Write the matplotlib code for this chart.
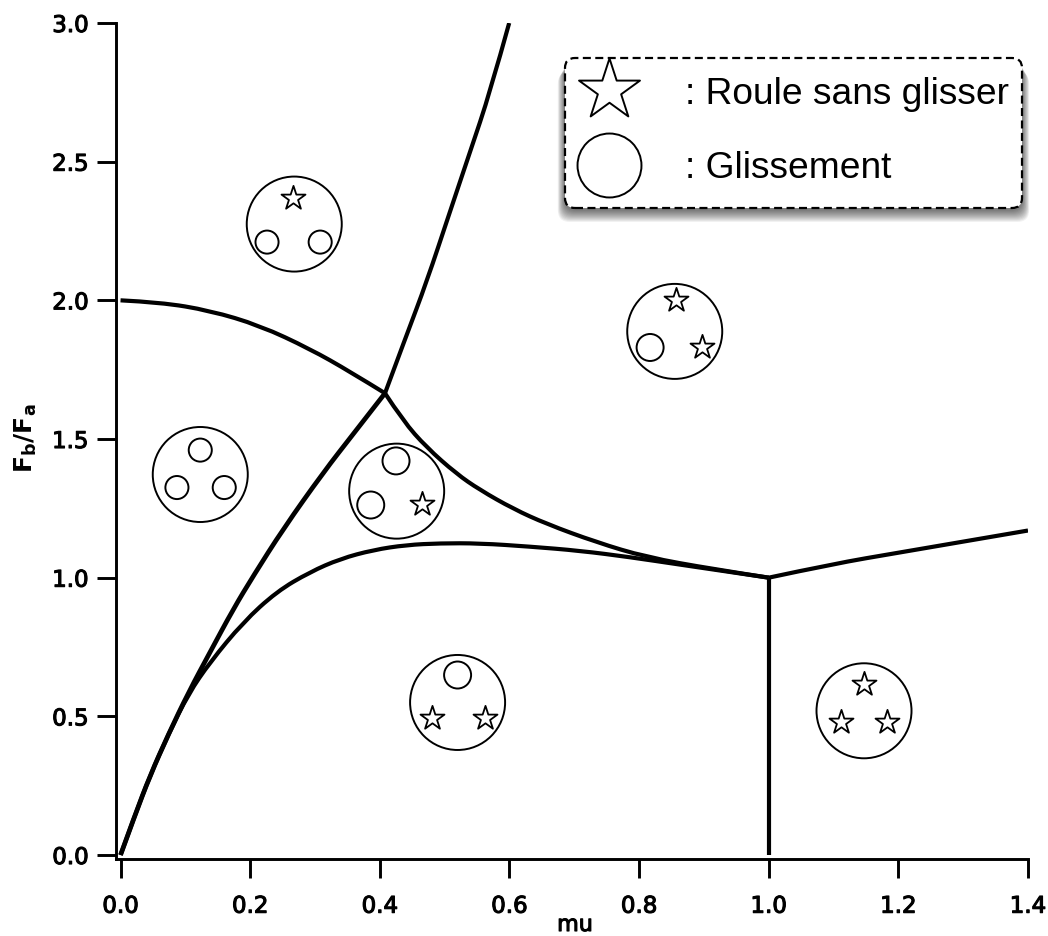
import matplotlib
matplotlib.use('Agg')
import matplotlib.pyplot as plt
import matplotlib.patheffects as pe
from matplotlib.patches import FancyBboxPatch, PathPatch
from matplotlib.path import Path
from matplotlib.transforms import IdentityTransform

# courbes
left_x = [0.0, 0.022, 0.0455, 0.074, 0.105, 0.138, 0.174, 0.205, 0.251, 0.313, 0.359, 0.408]
left_y = [0.0, 0.142, 0.286, 0.436, 0.587, 0.731, 0.887, 1.007, 1.176, 1.38, 1.518, 1.665]

up_x = [0.408, 0.441, 0.472, 0.508, 0.539, 0.57, 0.5996]
up_y = [1.665, 1.873, 2.065, 2.318, 2.534, 2.75, 3.0]

top_x = [0.0, 0.061, 0.138, 0.215, 0.292, 0.354, 0.408]
top_y = [2.0, 1.993, 1.963, 1.909, 1.825, 1.743, 1.665]

mid_x = [0.408, 0.436, 0.472, 0.518, 0.554, 0.606, 0.657, 0.734, 0.811, 0.914, 1.0]
mid_y = [1.665, 1.565, 1.47, 1.375, 1.317, 1.248, 1.194, 1.128, 1.074, 1.031, 1.0]

bot_x = [0.0, 0.022, 0.0455, 0.074, 0.105, 0.138, 0.189, 0.241, 0.292, 0.339, 0.39, 0.441, 0.493, 0.554, 0.632, 0.709, 0.786, 0.863, 1.0]
bot_y = [0.0, 0.142, 0.286, 0.436, 0.582, 0.695, 0.839, 0.95, 1.02, 1.068, 1.10, 1.118, 1.124, 1.124, 1.112, 1.097, 1.074, 1.047, 1.0]

right_x = [1.0, 1.1, 1.2, 1.3, 1.4]
right_y = [1.0, 1.05, 1.09, 1.13, 1.17]

vert_x = [1.0, 1.0]
vert_y = [0.0, 1.0]

# grands cercles (configurations)
big_x = [0.268, 0.855, 0.123, 0.426, 0.520, 1.147]
big_y = [2.275, 1.888, 1.372, 1.312, 0.55, 0.52]

small_circ_x = [0.226, 0.308, 0.123, 0.087, 0.160]
small_circ_y = [2.21, 2.21, 1.46, 1.325, 1.325]
med_circ_x = [0.817, 0.425, 0.386, 0.520]
med_circ_y = [1.83, 1.421, 1.262, 0.649]

star_x = [0.266, 0.857, 0.897, 0.465, 0.480, 0.562, 1.147, 1.111, 1.182]
star_y = [2.37, 2.002, 1.832, 1.266, 0.494, 0.494, 0.617, 0.480, 0.480]

xticks = [0.0, 0.2, 0.4, 0.6, 0.8, 1.0, 1.2, 1.4]
yticks = [0.0, 0.5, 1.0, 1.5, 2.0, 2.5, 3.0]


def smooth_line(ax, xs, ys, lw):
    # bezier quadratique avec les points lus comme points de controle
    verts = [(xs[0], ys[0])]
    codes = [Path.MOVETO]
    for i in range(1, len(xs) - 1):
        if i < len(xs) - 2:
            end = ((xs[i] + xs[i + 1]) / 2, (ys[i] + ys[i + 1]) / 2)
        else:
            end = (xs[i + 1], ys[i + 1])
        verts += [(xs[i], ys[i]), end]
        codes += [Path.CURVE3, Path.CURVE3]
    if len(xs) == 2:
        verts.append((xs[1], ys[1]))
        codes.append(Path.LINETO)
    ax.add_patch(PathPatch(Path(verts, codes), fill=False, edgecolor='k', lw=lw,
                           capstyle='butt', joinstyle='round', zorder=2))


W, H = 1048, 937
fig = plt.figure(figsize=(W / 100, H / 100), dpi=100)
ax = fig.add_axes([116 / W, 1 - 860 / H, (1028 - 116) / W, (860 - 24) / H])
ax.set_xlim(-0.007, 1.4)
ax.set_ylim(-0.0144, 3.0)

for xs, ys, w in [(left_x, left_y, 3.4), (up_x, up_y, 3.0), (top_x, top_y, 3.0),
                  (mid_x, mid_y, 3.0), (bot_x, bot_y, 3.0), (right_x, right_y, 3.0),
                  (vert_x, vert_y, 3.0)]:
    smooth_line(ax, xs, ys, w)

ax.scatter(big_x, big_y, s=4680, facecolor='none', edgecolor='k', lw=1.4, zorder=3)
ax.scatter(small_circ_x, small_circ_y, s=276, facecolor='none', edgecolor='k', lw=1.4, zorder=3)
ax.scatter(med_circ_x, med_circ_y, s=378, facecolor='none', edgecolor='k', lw=1.4, zorder=3)
ax.scatter(star_x, star_y, s=330, marker='*', facecolor='white', edgecolor='k', lw=1.3, zorder=3)

for s in ['top', 'right']:
    ax.spines[s].set_visible(False)
for s in ['left', 'bottom']:
    ax.spines[s].set_linewidth(2.1)

ax.set_xticks(xticks)
ax.set_yticks(yticks)
ax.set_xticklabels(['%.1f' % v for v in xticks])
ax.set_yticklabels(['%.1f' % v for v in yticks])
stroke = [pe.withStroke(linewidth=0.8, foreground='k')]
ax.tick_params(axis='x', length=13.7, width=2.1, pad=12, labelsize=16.5)
ax.tick_params(axis='y', length=13.7, width=2.1, pad=6, labelsize=16.5)
for t in ax.get_xticklabels() + ax.get_yticklabels():
    t.set_path_effects(stroke)

fig.text(575 / W, 1 - 926 / H, 'mu', ha='center', va='center', fontsize=16, path_effects=stroke)
fig.text(26 / W, 1 - 438 / H, r'$\mathbf{F_b/F_a}$', ha='center', va='center',
         rotation=90, fontsize=18)

# legende dessinee a la main, en pixels
tr = IdentityTransform()
box_xy = (565, H - 209)
box_w, box_h = 457, 150
for i in range(12):
    grow = 12 - i
    ax.add_patch(FancyBboxPatch((box_xy[0] - grow * 0.6, box_xy[1] - 2 - grow), box_w + grow * 1.2, box_h,
                                boxstyle='round,pad=0,rounding_size=12', transform=tr,
                                facecolor='k', edgecolor='none', alpha=0.055, zorder=4, clip_on=False))
ax.add_patch(FancyBboxPatch(box_xy, box_w, box_h, boxstyle='round,pad=0,rounding_size=10', transform=tr,
                            facecolor='white', edgecolor='k', lw=1.6, ls=(0, (3.6, 2.0)), zorder=5, clip_on=False))
ax.scatter([609], [H - 91], s=2130, marker='*', facecolor='white', edgecolor='k', lw=1.4,
           transform=tr, zorder=6, clip_on=False)
ax.scatter([609], [H - 166], s=2120, facecolor='white', edgecolor='k', lw=1.4,
           transform=tr, zorder=6, clip_on=False)
fig.text(685 / W, 1 - 94 / H, ': Roule sans glisser', family='Liberation Sans', fontsize=26.7,
         ha='left', va='center', zorder=7)
fig.text(685 / W, 1 - 169 / H, ': Glissement', family='Liberation Sans', fontsize=26.7,
         ha='left', va='center', zorder=7)

fig.savefig('out.png', dpi=100)
